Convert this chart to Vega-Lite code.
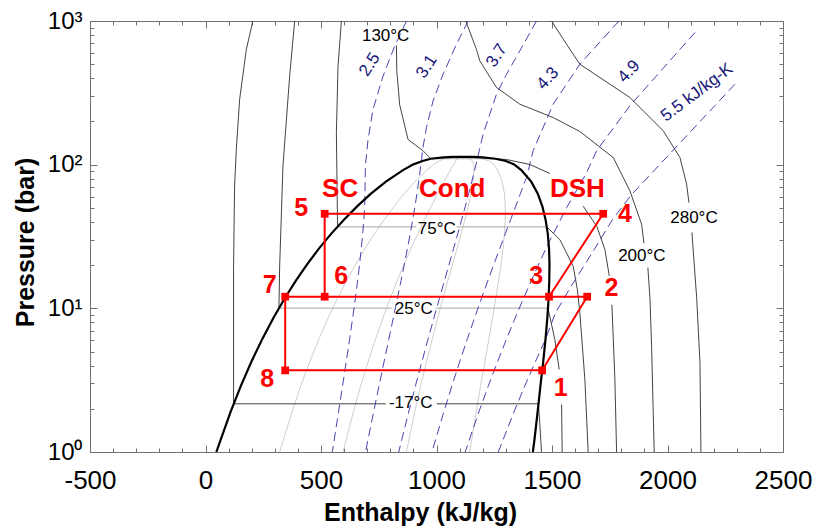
{
  "$schema": "https://vega.github.io/schema/vega-lite/v6.json",
  "width": 693,
  "height": 431,
  "autosize": {"type": "none"},
  "padding": {"left": 90, "top": 21, "right": 34, "bottom": 77},
  "background": "white",
  "config": {
    "view": {"stroke": "#707070", "strokeWidth": 1},
    "font": "Liberation Sans",
    "axis": {"domain": false, "grid": false, "labelFont": "Liberation Sans", "titleFont": "Liberation Sans", "tickColor": "#707070", "tickWidth": 1, "labelColor": "#000000", "titleColor": "#000000", "labelOverlap": false, "labelFlush": false}
  },
  "datasets": {
    "D": [
      {"o":0,"h":47,"p":1},{"o":1,"h":64,"p":1.195},{"o":2,"h":108.6,"p":1.901},{"o":3,"h":154,"p":2.908},{"o":4,"h":200,"p":4.294},{"o":5,"h":246.6,"p":6.152},{"o":6,"h":293.8,"p":8.574},{"o":7,"h":341.8,"p":11.67},{"o":8,"h":390.6,"p":15.54},{"o":9,"h":440.6,"p":20.33},{"o":10,"h":491.7,"p":26.13},{"o":11,"h":544.6,"p":33.11},{"o":12,"h":599.3,"p":41.43},{"o":13,"h":656.3,"p":51.26},{"o":14,"h":716.3,"p":62.8},{"o":15,"h":781,"p":76.2},{"o":16,"h":855,"p":91.7},{"o":17,"h":900,"p":100.5},{"o":18,"h":940,"p":106},{"o":19,"h":975,"p":110},{"o":20,"h":1030,"p":112.5},{"o":21,"h":1070,"p":113.3},{"o":22,"h":1110,"p":113.5},{"o":23,"h":1160,"p":113.2},{"o":24,"h":1200,"p":112.3},{"o":25,"h":1255,"p":110},{"o":26,"h":1300,"p":106},{"o":27,"h":1336,"p":100.5},{"o":28,"h":1367,"p":91.7},{"o":29,"h":1410,"p":76.2},{"o":30,"h":1438.4,"p":62.8},{"o":31,"h":1458.2,"p":51.26},{"o":32,"h":1472.2,"p":41.43},{"o":33,"h":1481.6,"p":33.11},{"o":34,"h":1487.1,"p":26.13},{"o":35,"h":1489.1,"p":20.33},{"o":36,"h":1488.2,"p":15.54},{"o":37,"h":1485.2,"p":11.67},{"o":38,"h":1479.8,"p":8.574},{"o":39,"h":1472.2,"p":6.152},{"o":40,"h":1462.2,"p":4.294},{"o":41,"h":1450.2,"p":2.908},{"o":42,"h":1437.7,"p":1.901},{"o":43,"h":1423.5,"p":1.195},{"o":44,"h":1417,"p":1}
    ],
    "Q": [
      {"id":"q2","o":0,"h":321,"p":1},{"id":"q2","o":1,"h":335.9,"p":1.195},{"id":"q2","o":2,"h":374.4,"p":1.901},{"id":"q2","o":3,"h":413.2,"p":2.908},{"id":"q2","o":4,"h":452.4,"p":4.294},{"id":"q2","o":5,"h":491.7,"p":6.152},{"id":"q2","o":6,"h":531,"p":8.574},{"id":"q2","o":7,"h":570.5,"p":11.67},{"id":"q2","o":8,"h":610.1,"p":15.54},{"id":"q2","o":9,"h":650.3,"p":20.33},{"id":"q2","o":10,"h":690.8,"p":26.13},{"id":"q2","o":11,"h":732,"p":33.11},{"id":"q2","o":12,"h":773.9,"p":41.43},{"id":"q2","o":13,"h":816.7,"p":51.26},{"id":"q2","o":14,"h":860.7,"p":62.8},{"id":"q2","o":15,"h":906.8,"p":76.2},{"id":"q2","o":16,"h":957.4,"p":91.7},{"id":"q2","o":17,"h":987.2,"p":100.5},{"id":"q2","o":18,"h":1012,"p":106},{"id":"q2","o":19,"h":1031,"p":110},{"id":"q2","o":20,"h":1064,"p":112.5},{"id":"q2","o":21,"h":1110,"p":113.5},
      {"id":"q4","o":0,"h":595,"p":1},{"id":"q4","o":1,"h":607.8,"p":1.195},{"id":"q4","o":2,"h":640.2,"p":1.901},{"id":"q4","o":3,"h":672.5,"p":2.908},{"id":"q4","o":4,"h":704.9,"p":4.294},{"id":"q4","o":5,"h":736.8,"p":6.152},{"id":"q4","o":6,"h":768.2,"p":8.574},{"id":"q4","o":7,"h":799.2,"p":11.67},{"id":"q4","o":8,"h":829.6,"p":15.54},{"id":"q4","o":9,"h":860,"p":20.33},{"id":"q4","o":10,"h":889.9,"p":26.13},{"id":"q4","o":11,"h":919.4,"p":33.11},{"id":"q4","o":12,"h":948.5,"p":41.43},{"id":"q4","o":13,"h":977.1,"p":51.26},{"id":"q4","o":14,"h":1005.1,"p":62.8},{"id":"q4","o":15,"h":1032.6,"p":76.2},{"id":"q4","o":16,"h":1059.8,"p":91.7},{"id":"q4","o":17,"h":1074.4,"p":100.5},{"id":"q4","o":18,"h":1084,"p":106},{"id":"q4","o":19,"h":1087,"p":110},{"id":"q4","o":20,"h":1098,"p":112.5},{"id":"q4","o":21,"h":1110,"p":113.5},
      {"id":"q6","o":0,"h":869,"p":1},{"id":"q6","o":1,"h":879.7,"p":1.195},{"id":"q6","o":2,"h":906.1,"p":1.901},{"id":"q6","o":3,"h":931.7,"p":2.908},{"id":"q6","o":4,"h":957.3,"p":4.294},{"id":"q6","o":5,"h":982,"p":6.152},{"id":"q6","o":6,"h":1005.4,"p":8.574},{"id":"q6","o":7,"h":1027.8,"p":11.67},{"id":"q6","o":8,"h":1049.2,"p":15.54},{"id":"q6","o":9,"h":1069.7,"p":20.33},{"id":"q6","o":10,"h":1088.9,"p":26.13},{"id":"q6","o":11,"h":1106.8,"p":33.11},{"id":"q6","o":12,"h":1123,"p":41.43},{"id":"q6","o":13,"h":1137.4,"p":51.26},{"id":"q6","o":14,"h":1149.6,"p":62.8},{"id":"q6","o":15,"h":1158.4,"p":76.2},{"id":"q6","o":16,"h":1162.2,"p":91.7},{"id":"q6","o":17,"h":1161.6,"p":100.5},{"id":"q6","o":18,"h":1156,"p":106},{"id":"q6","o":19,"h":1143,"p":110},{"id":"q6","o":20,"h":1132,"p":112.5},{"id":"q6","o":21,"h":1110,"p":113.5},
      {"id":"q8","o":0,"h":1143,"p":1},{"id":"q8","o":1,"h":1151.6,"p":1.195},{"id":"q8","o":2,"h":1171.9,"p":1.901},{"id":"q8","o":3,"h":1191,"p":2.908},{"id":"q8","o":4,"h":1209.8,"p":4.294},{"id":"q8","o":5,"h":1227.1,"p":6.152},{"id":"q8","o":6,"h":1242.6,"p":8.574},{"id":"q8","o":7,"h":1256.5,"p":11.67},{"id":"q8","o":8,"h":1268.7,"p":15.54},{"id":"q8","o":9,"h":1279.4,"p":20.33},{"id":"q8","o":10,"h":1288,"p":26.13},{"id":"q8","o":11,"h":1294.2,"p":33.11},{"id":"q8","o":12,"h":1297.6,"p":41.43},{"id":"q8","o":13,"h":1297.8,"p":51.26},{"id":"q8","o":14,"h":1294,"p":62.8},{"id":"q8","o":15,"h":1284.2,"p":76.2},{"id":"q8","o":16,"h":1264.6,"p":91.7},{"id":"q8","o":17,"h":1248.8,"p":100.5},{"id":"q8","o":18,"h":1228,"p":106},{"id":"q8","o":19,"h":1199,"p":110},{"id":"q8","o":20,"h":1166,"p":112.5},{"id":"q8","o":21,"h":1110,"p":113.5}
    ],
    "I": [
      {"id":"m17a","g":"a","o":0,"h":205,"p":1000},{"id":"m17a","g":"a","o":1,"h":176.7,"p":633},{"id":"m17a","g":"a","o":2,"h":147.7,"p":284},{"id":"m17a","g":"a","o":3,"h":133.4,"p":127.5},{"id":"m17a","g":"a","o":4,"h":126,"p":70.8},{"id":"m17a","g":"a","o":5,"h":121.5,"p":19.65},{"id":"m17a","g":"a","o":6,"h":121.5,"p":2.165},{"id":"m17a","g":"a","o":7,"h":780,"p":2.165},
      {"id":"m17b","g":"a","o":8,"h":1001,"p":2.165},{"id":"m17b","g":"a","o":9,"h":1441,"p":2.165},{"id":"m17b","g":"a","o":10,"h":1447,"p":1.6},{"id":"m17b","g":"a","o":11,"h":1454.6,"p":1},
      {"id":"t25L","g":"a","o":12,"h":386,"p":1000},{"id":"t25L","g":"a","o":13,"h":364.3,"p":412.8},{"id":"t25L","g":"a","o":14,"h":335.3,"p":97.6},{"id":"t25L","g":"a","o":15,"h":321,"p":19.65},{"id":"t25L","g":"a","o":16,"h":318,"p":10.03},
      {"id":"t25h1","g":"b","o":17,"h":318,"p":10.03},{"id":"t25h1","g":"b","o":18,"h":806,"p":10.03},
      {"id":"t25h2","g":"b","o":19,"h":997,"p":10.03},{"id":"t25h2","g":"b","o":20,"h":1482.6,"p":10.03},
      {"id":"t25V1","g":"a","o":21,"h":1482.6,"p":10.03},{"id":"t25V1","g":"a","o":22,"h":1512.3,"p":6.07},{"id":"t25V1","g":"a","o":23,"h":1531,"p":3.75},
      {"id":"t25V2","g":"a","o":24,"h":1541.4,"p":2.14},{"id":"t25V2","g":"a","o":25,"h":1544,"p":1},
      {"id":"t75L","g":"a","o":26,"h":588.3,"p":1000},{"id":"t75L","g":"a","o":27,"h":573.6,"p":484.6},{"id":"t75L","g":"a","o":28,"h":566.6,"p":166.6},{"id":"t75L","g":"a","o":29,"h":571.7,"p":36.9},
      {"id":"t75h1","g":"b","o":30,"h":571.7,"p":36.9},{"id":"t75h1","g":"b","o":31,"h":913,"p":36.9},
      {"id":"t75h2","g":"b","o":32,"h":1086.5,"p":36.9},{"id":"t75h2","g":"b","o":33,"h":1477.2,"p":36.9},
      {"id":"t75V","g":"a","o":34,"h":1477.2,"p":36.9},{"id":"t75V","g":"a","o":35,"h":1534,"p":30.1},{"id":"t75V","g":"a","o":36,"h":1591.6,"p":19.65},{"id":"t75V","g":"a","o":37,"h":1609.8,"p":13.5},{"id":"t75V","g":"a","o":38,"h":1620.6,"p":9.31},{"id":"t75V","g":"a","o":39,"h":1642.3,"p":3.2},{"id":"t75V","g":"a","o":40,"h":1656.6,"p":1},
      {"id":"t130L","g":"a","o":41,"h":826.5,"p":675},{"id":"t130L","g":"a","o":42,"h":828,"p":450},{"id":"t130L","g":"a","o":43,"h":840.8,"p":260},{"id":"t130L","g":"a","o":44,"h":876.8,"p":149.7},{"id":"t130L","g":"a","o":45,"h":941.8,"p":124.9},{"id":"t130L","g":"a","o":46,"h":975,"p":110},
      {"id":"t130h","g":"b","o":47,"h":975,"p":110},{"id":"t130h","g":"b","o":48,"h":1255,"p":110},
      {"id":"t130V1","g":"a","o":49,"h":1255,"p":110},{"id":"t130V1","g":"a","o":50,"h":1303.1,"p":108.6},{"id":"t130V1","g":"a","o":51,"h":1404,"p":100.3},{"id":"t130V1","g":"a","o":52,"h":1490.7,"p":86.8},
      {"id":"t130V2","g":"a","o":53,"h":1635,"p":51.4},{"id":"t130V2","g":"a","o":54,"h":1694.3,"p":37.1},{"id":"t130V2","g":"a","o":55,"h":1729,"p":25.7},{"id":"t130V2","g":"a","o":56,"h":1748,"p":16.8},
      {"id":"t130V3","g":"a","o":57,"h":1759.3,"p":10.6},{"id":"t130V3","g":"a","o":58,"h":1772.3,"p":3.2},{"id":"t130V3","g":"a","o":59,"h":1779.6,"p":1},
      {"id":"t200a","g":"a","o":60,"h":1126.7,"p":1000},{"id":"t200a","g":"a","o":61,"h":1173.1,"p":633},{"id":"t200a","g":"a","o":62,"h":1187.4,"p":528},{"id":"t200a","g":"a","o":63,"h":1259.7,"p":344.4},{"id":"t200a","g":"a","o":64,"h":1360.7,"p":263.6},{"id":"t200a","g":"a","o":65,"h":1505,"p":212.9},{"id":"t200a","g":"a","o":66,"h":1620.6,"p":170.2},{"id":"t200a","g":"a","o":67,"h":1764.9,"p":112.2},{"id":"t200a","g":"a","o":68,"h":1837.2,"p":65.8},{"id":"t200a","g":"a","o":69,"h":1887.9,"p":38.5},{"id":"t200a","g":"a","o":70,"h":1898,"p":28.4},
      {"id":"t200b","g":"a","o":71,"h":1915,"p":19.2},{"id":"t200b","g":"a","o":72,"h":1923.9,"p":11.9},{"id":"t200b","g":"a","o":73,"h":1931.2,"p":5.45},{"id":"t200b","g":"a","o":74,"h":1942.5,"p":1},
      {"id":"t280a","g":"a","o":75,"h":1498,"p":1000},{"id":"t280a","g":"a","o":76,"h":1563,"p":689.5},{"id":"t280a","g":"a","o":77,"h":1620.6,"p":500.4},{"id":"t280a","g":"a","o":78,"h":1837.2,"p":293.4},{"id":"t280a","g":"a","o":79,"h":1981.4,"p":172.1},{"id":"t280a","g":"a","o":80,"h":2053.8,"p":112.2},{"id":"t280a","g":"a","o":81,"h":2082.8,"p":73.1},{"id":"t280a","g":"a","o":82,"h":2092.8,"p":54.5},
      {"id":"t280b","g":"a","o":83,"h":2105.8,"p":33.7},{"id":"t280b","g":"a","o":84,"h":2111.5,"p":25.1},{"id":"t280b","g":"a","o":85,"h":2126.2,"p":11.9},{"id":"t280b","g":"a","o":86,"h":2140.5,"p":4.2},{"id":"t280b","g":"a","o":87,"h":2144.8,"p":1}
    ],
    "S": [
      {"id":"s25","o":0,"h":870,"p":1000},{"id":"s25","o":1,"h":819,"p":668},{"id":"s25","o":2,"h":768.5,"p":413},{"id":"s25","o":3,"h":725,"p":242},{"id":"s25","o":4,"h":703.5,"p":149},{"id":"s25","o":5,"h":692,"p":97.6},{"id":"s25","o":6,"h":690,"p":57.5},{"id":"s25","o":7,"h":688.9,"p":51.26},{"id":"s25","o":8,"h":685.3,"p":41.43},{"id":"s25","o":9,"h":680.5,"p":33.11},{"id":"s25","o":10,"h":674.4,"p":26.13},{"id":"s25","o":11,"h":667.2,"p":20.33},{"id":"s25","o":12,"h":658.5,"p":15.54},{"id":"s25","o":13,"h":648.5,"p":11.67},{"id":"s25","o":14,"h":637.1,"p":8.574},{"id":"s25","o":15,"h":624.2,"p":6.152},{"id":"s25","o":16,"h":609.7,"p":4.294},{"id":"s25","o":17,"h":593.7,"p":2.908},{"id":"s25","o":18,"h":575.9,"p":1.901},{"id":"s25","o":19,"h":549,"p":1},
      {"id":"s31","o":0,"h":1137,"p":1000},{"id":"s31","o":1,"h":1086.5,"p":689.5},{"id":"s31","o":2,"h":1028.4,"p":426},{"id":"s31","o":3,"h":985,"p":278},{"id":"s31","o":4,"h":956.5,"p":181.4},{"id":"s31","o":5,"h":939,"p":125},{"id":"s31","o":6,"h":935,"p":105},{"id":"s31","o":7,"h":932.3,"p":100.5},{"id":"s31","o":8,"h":929.3,"p":91.7},{"id":"s31","o":9,"h":922.8,"p":76.2},{"id":"s31","o":10,"h":915.3,"p":62.8},{"id":"s31","o":11,"h":906.8,"p":51.26},{"id":"s31","o":12,"h":897.1,"p":41.43},{"id":"s31","o":13,"h":886.3,"p":33.11},{"id":"s31","o":14,"h":874.3,"p":26.13},{"id":"s31","o":15,"h":861,"p":20.33},{"id":"s31","o":16,"h":846.4,"p":15.54},{"id":"s31","o":17,"h":830.4,"p":11.67},{"id":"s31","o":18,"h":813,"p":8.574},{"id":"s31","o":19,"h":794.1,"p":6.152},{"id":"s31","o":20,"h":773.6,"p":4.294},{"id":"s31","o":21,"h":751.6,"p":2.908},{"id":"s31","o":22,"h":727.8,"p":1.901},{"id":"s31","o":23,"h":692.8,"p":1},
      {"id":"s37","o":0,"h":1433,"p":1000},{"id":"s37","o":1,"h":1360.7,"p":620},{"id":"s37","o":2,"h":1303.1,"p":426},{"id":"s37","o":3,"h":1259.7,"p":309.4},{"id":"s37","o":4,"h":1230.7,"p":224.5},{"id":"s37","o":5,"h":1201.7,"p":163},{"id":"s37","o":6,"h":1185,"p":125},{"id":"s37","o":7,"h":1177.1,"p":110},{"id":"s37","o":8,"h":1171.2,"p":100.5},{"id":"s37","o":9,"h":1165.2,"p":91.7},{"id":"s37","o":10,"h":1152.7,"p":76.2},{"id":"s37","o":11,"h":1139.2,"p":62.8},{"id":"s37","o":12,"h":1124.7,"p":51.26},{"id":"s37","o":13,"h":1109,"p":41.43},{"id":"s37","o":14,"h":1092.2,"p":33.11},{"id":"s37","o":15,"h":1074.2,"p":26.13},{"id":"s37","o":16,"h":1054.9,"p":20.33},{"id":"s37","o":17,"h":1034.3,"p":15.54},{"id":"s37","o":18,"h":1012.3,"p":11.67},{"id":"s37","o":19,"h":988.9,"p":8.574},{"id":"s37","o":20,"h":964,"p":6.152},{"id":"s37","o":21,"h":937.5,"p":4.294},{"id":"s37","o":22,"h":909.4,"p":2.908},{"id":"s37","o":23,"h":879.7,"p":1.901},{"id":"s37","o":24,"h":836.5,"p":1},
      {"id":"s43","o":0,"h":1789.6,"p":1000},{"id":"s43","o":1,"h":1620.6,"p":500.4},{"id":"s43","o":2,"h":1505,"p":263.6},{"id":"s43","o":3,"h":1418.3,"p":124.9},{"id":"s43","o":4,"h":1404,"p":100.7},{"id":"s43","o":5,"h":1392,"p":83},{"id":"s43","o":6,"h":1382.5,"p":76.2},{"id":"s43","o":7,"h":1363.1,"p":62.8},{"id":"s43","o":8,"h":1342.6,"p":51.26},{"id":"s43","o":9,"h":1320.9,"p":41.43},{"id":"s43","o":10,"h":1298.1,"p":33.11},{"id":"s43","o":11,"h":1274.1,"p":26.13},{"id":"s43","o":12,"h":1248.8,"p":20.33},{"id":"s43","o":13,"h":1222.2,"p":15.54},{"id":"s43","o":14,"h":1194.2,"p":11.67},{"id":"s43","o":15,"h":1164.7,"p":8.574},{"id":"s43","o":16,"h":1133.9,"p":6.152},{"id":"s43","o":17,"h":1101.4,"p":4.294},{"id":"s43","o":18,"h":1067.3,"p":2.908},{"id":"s43","o":19,"h":1031.6,"p":1.901},{"id":"s43","o":20,"h":980.2,"p":1},
      {"id":"s49","o":0,"h":2119,"p":831.8},{"id":"s49","o":1,"h":1837,"p":256.9},{"id":"s49","o":2,"h":1693,"p":124.9},{"id":"s49","o":3,"h":1649.6,"p":87.8},{"id":"s49","o":4,"h":1563,"p":50.1},{"id":"s49","o":5,"h":1527,"p":38.5},{"id":"s49","o":6,"h":1485.5,"p":28.6},{"id":"s49","o":7,"h":1474,"p":26.13},{"id":"s49","o":8,"h":1442.7,"p":20.33},{"id":"s49","o":9,"h":1410.1,"p":15.54},{"id":"s49","o":10,"h":1376.1,"p":11.67},{"id":"s49","o":11,"h":1340.6,"p":8.574},{"id":"s49","o":12,"h":1303.7,"p":6.152},{"id":"s49","o":13,"h":1265.3,"p":4.294},{"id":"s49","o":14,"h":1225.2,"p":2.908},{"id":"s49","o":15,"h":1183.5,"p":1.901},{"id":"s49","o":16,"h":1124,"p":1},
      {"id":"s55","o":0,"h":2292,"p":363},{"id":"s55","o":1,"h":1845,"p":62},{"id":"s55","o":2,"h":1762,"p":41.5},{"id":"s55","o":3,"h":1674,"p":24.35},{"id":"s55","o":4,"h":1583,"p":14.26},{"id":"s55","o":5,"h":1515,"p":9.31},{"id":"s55","o":6,"h":1471.8,"p":6.07},{"id":"s55","o":7,"h":1429.2,"p":4.294},{"id":"s55","o":8,"h":1383.1,"p":2.908},{"id":"s55","o":9,"h":1335.4,"p":1.901},{"id":"s55","o":10,"h":1267.7,"p":1}
    ],
    "C": [
      {"id":"a","o":0,"h":345,"p":3.7},{"id":"a","o":1,"h":1457.3,"p":3.7},{"id":"a","o":2,"h":1652.3,"p":12.05},{"id":"a","o":3,"h":345,"p":12.05},{"id":"a","o":4,"h":345,"p":3.7},
      {"id":"b","o":5,"h":1487,"p":12.05},{"id":"b","o":6,"h":1721.6,"p":45.5},{"id":"b","o":7,"h":515.9,"p":45.5},{"id":"b","o":8,"h":515.9,"p":12.05}
    ],
    "N": [
      {"n":"1","h":1457.3,"p":3.7},{"n":"2","h":1652.3,"p":12.05},{"n":"3","h":1487,"p":12.05},{"n":"4","h":1721.6,"p":45.5},{"n":"5","h":515.9,"p":45.5},{"n":"6","h":515.9,"p":12.05},{"n":"7","h":345,"p":12.05},{"n":"8","h":345,"p":3.7}
    ]
  },
  "encoding": {
    "x": {"field": "h", "type": "quantitative", "scale": {"domain": [-500, 2500], "nice": false, "zero": false}, "axis": null},
    "y": {"field": "p", "type": "quantitative", "scale": {"type": "log", "domain": [1, 1000], "nice": false}, "axis": null}
  },
  "layer": [
    {
      "data": {"name": "Q"},
      "mark": {"type": "line", "clip": true, "color": "#c8c8c8", "strokeWidth": 0.9},
      "encoding": {
        "x": {"field": "h", "type": "quantitative", "scale": {"domain": [-500, 2500], "nice": false, "zero": false},
          "axis": {"orient": "bottom", "values": [-500, 0, 500, 1000, 1500, 2000, 2500],
            "labelExpr": "'' + datum.value", "ticks": false,
            "labelFontSize": 26, "labelPadding": 15,
            "title": "Enthalpy (kJ/kg)", "titleFontSize": 25, "titleFontWeight": "bold", "titleX": 330, "titleY": 60, "titleBaseline": "middle", "titleAlign": "center"}},
        "y": {"field": "p", "type": "quantitative", "scale": {"type": "log", "domain": [1, 1000], "nice": false},
          "axis": {"orient": "left", "values": [1, 10, 100, 1000],
            "labelExpr": "datum.value === 1 ? '10⁰' : datum.value === 10 ? '10¹' : datum.value === 100 ? '10²' : '10³'", "ticks": false,
            "labelFontSize": 24, "labelPadding": 8,
            "title": "Pressure (bar)", "titleFontSize": 25, "titleFontWeight": "bold", "titleX": -65, "titleY": 221, "titleBaseline": "middle", "titleAlign": "center"}},
        "detail": {"field": "id"},
        "order": {"field": "o", "type": "quantitative"}
      }
    },
    {
      "data": {"name": "I"},
      "mark": {"type": "line", "clip": true, "strokeWidth": 0.9},
      "encoding": {
        "x": {"field": "h", "type": "quantitative", "scale": {"domain": [-500, 2500], "nice": false, "zero": false},
          "axis": {"orient": "top", "values": [-500,-400,-300,-200,-100,0,100,200,300,400,500,600,700,800,900,1000,1100,1200,1300,1400,1500,1600,1700,1800,1900,2000,2100,2200,2300,2400,2500],
            "labels": false, "title": null,
            "tickSize": {"condition": {"test": "datum.value % 500 === 0", "value": -7}, "value": -4}}},
        "y": {"field": "p", "type": "quantitative", "scale": {"type": "log", "domain": [1, 1000], "nice": false},
          "axis": {"orient": "right", "values": [1,2,3,4,5,6,7,8,9,10,20,30,40,50,60,70,80,90,100,200,300,400,500,600,700,800,900,1000],
            "labels": false, "title": null,
            "tickSize": {"condition": {"test": "datum.value === 1 || datum.value === 10 || datum.value === 100 || datum.value === 1000", "value": -7}, "value": -4}}},
        "detail": {"field": "id"},
        "order": {"field": "o", "type": "quantitative"},
        "color": {"field": "g", "type": "nominal", "scale": {"domain": ["a", "b"], "range": ["#2e2e2e", "#9c9c9c"]}, "legend": null}
      }
    },
    {
      "data": {"name": "S"},
      "mark": {"type": "line", "clip": true, "color": "#3030a8", "strokeWidth": 0.9, "strokeDash": [9, 5]},
      "encoding": {
        "x": {"field": "h", "type": "quantitative", "scale": {"domain": [-500, 2500], "nice": false, "zero": false},
          "axis": {"orient": "bottom", "values": [-500,-400,-300,-200,-100,0,100,200,300,400,500,600,700,800,900,1000,1100,1200,1300,1400,1500,1600,1700,1800,1900,2000,2100,2200,2300,2400,2500],
            "labels": false, "title": null,
            "tickSize": {"condition": {"test": "datum.value % 500 === 0", "value": -7}, "value": -4}}},
        "y": {"field": "p", "type": "quantitative", "scale": {"type": "log", "domain": [1, 1000], "nice": false},
          "axis": {"orient": "left", "values": [1,2,3,4,5,6,7,8,9,10,20,30,40,50,60,70,80,90,100,200,300,400,500,600,700,800,900,1000],
            "labels": false, "title": null,
            "tickSize": {"condition": {"test": "datum.value === 1 || datum.value === 10 || datum.value === 100 || datum.value === 1000", "value": -7}, "value": -4}}},
        "detail": {"field": "id"},
        "order": {"field": "o", "type": "quantitative"}
      }
    },
    {
      "data": {"name": "D"},
      "mark": {"type": "line", "clip": true, "color": "#000000", "strokeWidth": 2.2},
      "encoding": {
        "order": {"field": "o", "type": "quantitative"}
      }
    },
    {
      "data": {"name": "C"},
      "mark": {"type": "line", "clip": true, "color": "#ff0000", "strokeWidth": 2},
      "encoding": {
        "detail": {"field": "id"},
        "order": {"field": "o", "type": "quantitative"}
      }
    },
    {
      "data": {"name": "N"},
      "mark": {"type": "point", "shape": "square", "filled": true, "color": "#ff0000", "size": 60, "opacity": 1}
    },
    {
      "data": {"values": [
        {"t":"1","h":1538,"p":2.79},{"t":"2","h":1757,"p":13.85},{"t":"3","h":1432,"p":16.66},{"t":"4","h":1816,"p":45.4},
        {"t":"5","h":414,"p":50.3},{"t":"6","h":587,"p":16.66},{"t":"7","h":278,"p":14.42},{"t":"8","h":267,"p":3.2}
      ]},
      "mark": {"type": "text", "font": "Liberation Sans", "fontSize": 25, "fontWeight": "bold", "color": "#ff0000", "align": "center", "baseline": "middle"},
      "encoding": {"text": {"field": "t"}}
    },
    {
      "data": {"values": [
        {"t":"SC","h":583,"p":67.2},{"t":"Cond","h":1068,"p":67.2},{"t":"DSH","h":1610,"p":67.2}
      ]},
      "mark": {"type": "text", "font": "Liberation Sans", "fontSize": 26, "fontWeight": "bold", "color": "#ff0000", "align": "center", "baseline": "middle"},
      "encoding": {"text": {"field": "t"}}
    },
    {
      "data": {"values": [
        {"t":"130°C","h":780,"p":786},{"t":"75°C","h":1001,"p":35.4},{"t":"25°C","h":901.5,"p":9.97},
        {"t":"-17°C","h":888.5,"p":2.176},{"t":"200°C","h":1889,"p":23.3},{"t":"280°C","h":2114.5,"p":42.2}
      ]},
      "mark": {"type": "text", "font": "Liberation Sans", "fontSize": 17, "color": "#000000", "align": "center", "baseline": "middle"},
      "encoding": {"text": {"field": "t"}}
    },
    {
      "data": {"values": [
        {"t":"2.5","h":711,"p":498},{"t":"3.1","h":958,"p":482},{"t":"3.7","h":1261,"p":575}
      ]},
      "mark": {"type": "text", "font": "Liberation Sans", "fontSize": 17, "color": "#16167a", "align": "center", "baseline": "middle", "angle": -57},
      "encoding": {"text": {"field": "t"}}
    },
    {
      "data": {"values": [
        {"t":"4.3","h":1482,"p":398},{"t":"4.9","h":1833,"p":445}
      ]},
      "mark": {"type": "text", "font": "Liberation Sans", "fontSize": 17, "color": "#16167a", "align": "center", "baseline": "middle", "angle": -47},
      "encoding": {"text": {"field": "t"}}
    },
    {
      "data": {"values": [
        {"t":"5.5 kJ/kg-K","h":2127,"p":318}
      ]},
      "mark": {"type": "text", "font": "Liberation Sans", "fontSize": 17, "color": "#16167a", "align": "center", "baseline": "middle", "angle": -37},
      "encoding": {"text": {"field": "t"}}
    }
  ],
  "resolve": {"axis": {"x": "independent", "y": "independent"}}
}
